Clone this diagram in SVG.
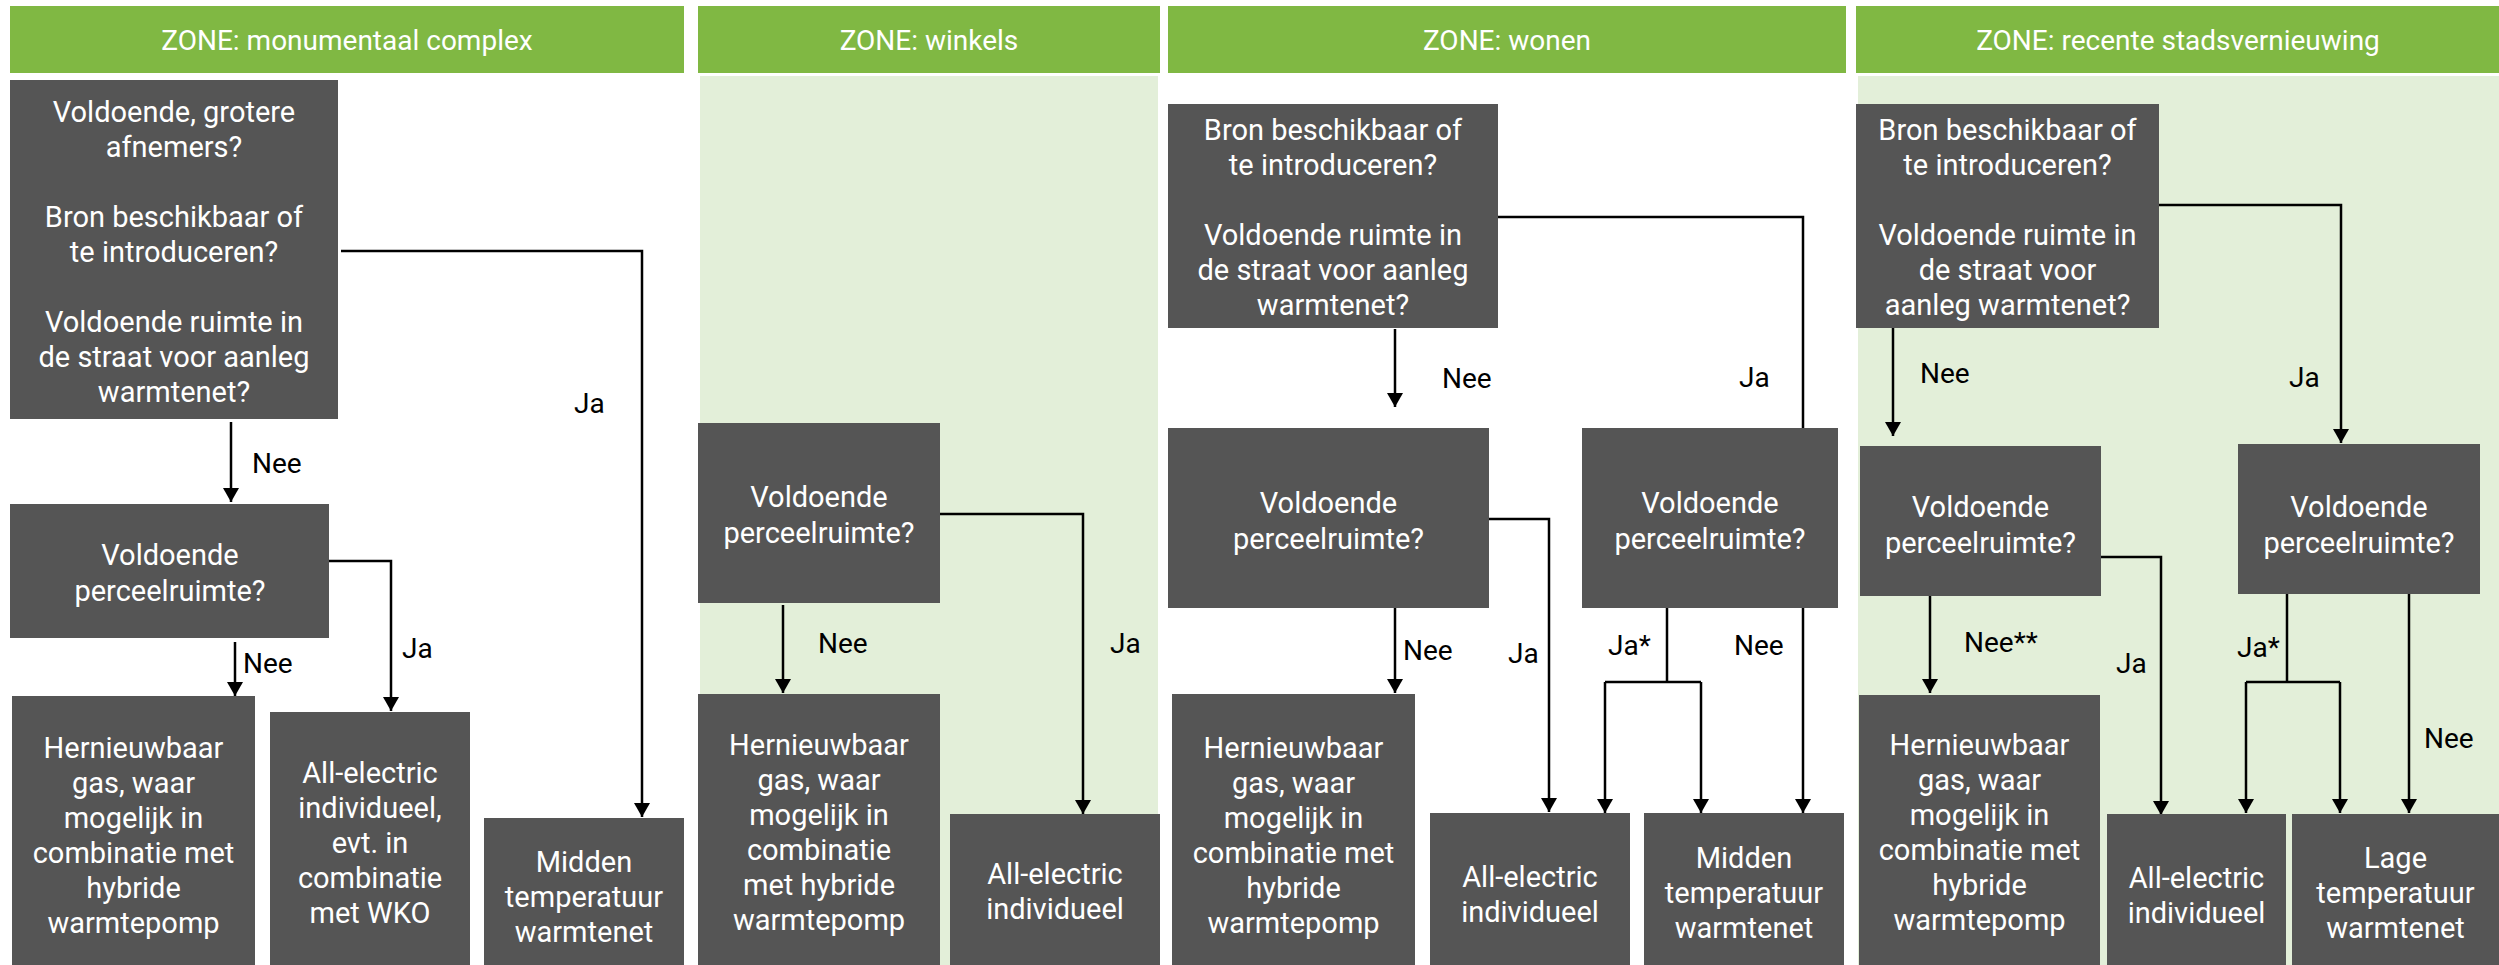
<svg xmlns="http://www.w3.org/2000/svg" width="2499" height="965" viewBox="0 0 2499 965">
<style>
.hdr{fill:#80B843}
.bg{fill:#E3EFD9}
.box{fill:#555555}
.t{font-family:Roboto,"Liberation Sans",sans-serif;font-size:29px;fill:#FFFFFF;text-anchor:middle}
.h{font-family:Roboto,"Liberation Sans",sans-serif;font-size:28px;fill:#FFFFFF;text-anchor:middle}
.lbl{font-family:Roboto,"Liberation Sans",sans-serif;font-size:28px;fill:#000000}
.c{fill:none;stroke:#000000;stroke-width:2.5}
</style>
<defs>
<marker id="arr" markerUnits="userSpaceOnUse" markerWidth="16" markerHeight="16" refX="14" refY="8" orient="auto">
<path d="M0,0 L14,8 L0,16 z" fill="#000000"/>
</marker>
</defs>
<rect width="2499" height="965" fill="#FFFFFF"/>
<g id="backgrounds">
<rect class="bg" x="700" y="76" width="458" height="889"/>
<rect class="bg" x="1858" y="76" width="641" height="889"/>
</g>
<g id="headers">
<rect class="hdr" x="10" y="6" width="674" height="67"/>
<text class="h" x="347" y="50">ZONE: monumentaal complex</text>
<rect class="hdr" x="698" y="6" width="462" height="67"/>
<text class="h" x="929" y="50">ZONE: winkels</text>
<rect class="hdr" x="1168" y="6" width="678" height="67"/>
<text class="h" x="1507" y="50">ZONE: wonen</text>
<rect class="hdr" x="1856" y="6" width="643" height="67"/>
<text class="h" x="2178" y="50">ZONE: recente stadsvernieuwing</text>
</g>
<g id="connectors">
<path class="c" d="M341,251 H642 V817" marker-end="url(#arr)"/>
<path class="c" d="M231,422 V502" marker-end="url(#arr)"/>
<path class="c" d="M329,561 H391 V711" marker-end="url(#arr)"/>
<path class="c" d="M235,642 V696" marker-end="url(#arr)"/>
<path class="c" d="M940,514 H1083 V814" marker-end="url(#arr)"/>
<path class="c" d="M783,605 V693" marker-end="url(#arr)"/>
<path class="c" d="M1498,217 H1803 V428"/>
<path class="c" d="M1395,329 V407" marker-end="url(#arr)"/>
<path class="c" d="M1489,519 H1549 V812" marker-end="url(#arr)"/>
<path class="c" d="M1395,608 V693" marker-end="url(#arr)"/>
<path class="c" d="M1667,608 V682 M1605,682 H1701"/>
<path class="c" d="M1605,682 V813" marker-end="url(#arr)"/>
<path class="c" d="M1701,682 V813" marker-end="url(#arr)"/>
<path class="c" d="M1803,608 V813" marker-end="url(#arr)"/>
<path class="c" d="M2159,205 H2341 V443" marker-end="url(#arr)"/>
<path class="c" d="M1893,328 V436" marker-end="url(#arr)"/>
<path class="c" d="M2101,557 H2161 V815" marker-end="url(#arr)"/>
<path class="c" d="M1930,596 V693" marker-end="url(#arr)"/>
<path class="c" d="M2287,594 V682 M2246,682 H2340"/>
<path class="c" d="M2246,682 V813" marker-end="url(#arr)"/>
<path class="c" d="M2340,682 V813" marker-end="url(#arr)"/>
<path class="c" d="M2409,594 V813" marker-end="url(#arr)"/>
</g>
<g id="labels">
<text class="lbl" x="574" y="413">Ja</text>
<text class="lbl" x="252" y="473">Nee</text>
<text class="lbl" x="243" y="673">Nee</text>
<text class="lbl" x="402" y="658">Ja</text>
<text class="lbl" x="818" y="653">Nee</text>
<text class="lbl" x="1110" y="653">Ja</text>
<text class="lbl" x="1442" y="388">Nee</text>
<text class="lbl" x="1739" y="387">Ja</text>
<text class="lbl" x="1403" y="660">Nee</text>
<text class="lbl" x="1508" y="663">Ja</text>
<text class="lbl" x="1608" y="655">Ja*</text>
<text class="lbl" x="1734" y="655">Nee</text>
<text class="lbl" x="1920" y="383">Nee</text>
<text class="lbl" x="2289" y="387">Ja</text>
<text class="lbl" x="1964" y="652">Nee**</text>
<text class="lbl" x="2116" y="673">Ja</text>
<text class="lbl" x="2237" y="657">Ja*</text>
<text class="lbl" x="2424" y="748">Nee</text>
</g>
<g id="A1">
<rect class="box" x="10" y="80" width="328" height="339"/>
<text class="t"><tspan x="174" y="122">Voldoende, grotere</tspan><tspan x="174" y="157">afnemers?</tspan><tspan x="174" y="227">Bron beschikbaar of</tspan><tspan x="174" y="262">te introduceren?</tspan><tspan x="174" y="332">Voldoende ruimte in</tspan><tspan x="174" y="367">de straat voor aanleg</tspan><tspan x="174" y="402">warmtenet?</tspan></text>
</g>
<g id="A2">
<rect class="box" x="10" y="504" width="319" height="134"/>
<text class="t"><tspan x="170" y="565">Voldoende</tspan><tspan x="170" y="601">perceelruimte?</tspan></text>
</g>
<g id="A3">
<rect class="box" x="12" y="696" width="243" height="269"/>
<text class="t"><tspan x="133.5" y="758">Hernieuwbaar</tspan><tspan x="133.5" y="793">gas, waar</tspan><tspan x="133.5" y="828">mogelijk in</tspan><tspan x="133.5" y="863">combinatie met</tspan><tspan x="133.5" y="898">hybride</tspan><tspan x="133.5" y="933">warmtepomp</tspan></text>
</g>
<g id="A4">
<rect class="box" x="270" y="712" width="200" height="253"/>
<text class="t"><tspan x="370" y="783">All-electric</tspan><tspan x="370" y="818">individueel,</tspan><tspan x="370" y="853">evt. in</tspan><tspan x="370" y="888">combinatie</tspan><tspan x="370" y="923">met WKO</tspan></text>
</g>
<g id="A5">
<rect class="box" x="484" y="818" width="200" height="147"/>
<text class="t"><tspan x="584" y="872">Midden</tspan><tspan x="584" y="907">temperatuur</tspan><tspan x="584" y="942">warmtenet</tspan></text>
</g>
<g id="B1">
<rect class="box" x="698" y="423" width="242" height="180"/>
<text class="t"><tspan x="819" y="507">Voldoende</tspan><tspan x="819" y="543">perceelruimte?</tspan></text>
</g>
<g id="B2">
<rect class="box" x="698" y="694" width="242" height="271"/>
<text class="t"><tspan x="819" y="755">Hernieuwbaar</tspan><tspan x="819" y="790">gas, waar</tspan><tspan x="819" y="825">mogelijk in</tspan><tspan x="819" y="860">combinatie</tspan><tspan x="819" y="895">met hybride</tspan><tspan x="819" y="930">warmtepomp</tspan></text>
</g>
<g id="B3">
<rect class="box" x="950" y="814" width="210" height="151"/>
<text class="t"><tspan x="1055" y="884">All-electric</tspan><tspan x="1055" y="919">individueel</tspan></text>
</g>
<g id="C1">
<rect class="box" x="1168" y="104" width="330" height="224"/>
<text class="t"><tspan x="1333" y="140">Bron beschikbaar of</tspan><tspan x="1333" y="175">te introduceren?</tspan><tspan x="1333" y="245">Voldoende ruimte in</tspan><tspan x="1333" y="280">de straat voor aanleg</tspan><tspan x="1333" y="315">warmtenet?</tspan></text>
</g>
<g id="C2">
<rect class="box" x="1168" y="428" width="321" height="180"/>
<text class="t"><tspan x="1328.5" y="513">Voldoende</tspan><tspan x="1328.5" y="549">perceelruimte?</tspan></text>
</g>
<g id="C3">
<rect class="box" x="1582" y="428" width="256" height="180"/>
<text class="t"><tspan x="1710" y="513">Voldoende</tspan><tspan x="1710" y="549">perceelruimte?</tspan></text>
</g>
<g id="C4">
<rect class="box" x="1172" y="694" width="243" height="271"/>
<text class="t"><tspan x="1293.5" y="758">Hernieuwbaar</tspan><tspan x="1293.5" y="793">gas, waar</tspan><tspan x="1293.5" y="828">mogelijk in</tspan><tspan x="1293.5" y="863">combinatie met</tspan><tspan x="1293.5" y="898">hybride</tspan><tspan x="1293.5" y="933">warmtepomp</tspan></text>
</g>
<g id="C5">
<rect class="box" x="1430" y="813" width="200" height="152"/>
<text class="t"><tspan x="1530" y="887">All-electric</tspan><tspan x="1530" y="922">individueel</tspan></text>
</g>
<g id="C6">
<rect class="box" x="1644" y="813" width="200" height="152"/>
<text class="t"><tspan x="1744" y="868">Midden</tspan><tspan x="1744" y="903">temperatuur</tspan><tspan x="1744" y="938">warmtenet</tspan></text>
</g>
<g id="D1">
<rect class="box" x="1856" y="104" width="303" height="224"/>
<text class="t"><tspan x="2007.5" y="140">Bron beschikbaar of</tspan><tspan x="2007.5" y="175">te introduceren?</tspan><tspan x="2007.5" y="245">Voldoende ruimte in</tspan><tspan x="2007.5" y="280">de straat voor</tspan><tspan x="2007.5" y="315">aanleg warmtenet?</tspan></text>
</g>
<g id="D2">
<rect class="box" x="1860" y="446" width="241" height="150"/>
<text class="t"><tspan x="1980.5" y="517">Voldoende</tspan><tspan x="1980.5" y="553">perceelruimte?</tspan></text>
</g>
<g id="D3">
<rect class="box" x="2238" y="444" width="242" height="150"/>
<text class="t"><tspan x="2359" y="517">Voldoende</tspan><tspan x="2359" y="553">perceelruimte?</tspan></text>
</g>
<g id="D4">
<rect class="box" x="1859" y="695" width="241" height="270"/>
<text class="t"><tspan x="1979.5" y="755">Hernieuwbaar</tspan><tspan x="1979.5" y="790">gas, waar</tspan><tspan x="1979.5" y="825">mogelijk in</tspan><tspan x="1979.5" y="860">combinatie met</tspan><tspan x="1979.5" y="895">hybride</tspan><tspan x="1979.5" y="930">warmtepomp</tspan></text>
</g>
<g id="D5">
<rect class="box" x="2107" y="814" width="179" height="151"/>
<text class="t"><tspan x="2196.5" y="888">All-electric</tspan><tspan x="2196.5" y="923">individueel</tspan></text>
</g>
<g id="D6">
<rect class="box" x="2292" y="814" width="207" height="151"/>
<text class="t"><tspan x="2395.5" y="868">Lage</tspan><tspan x="2395.5" y="903">temperatuur</tspan><tspan x="2395.5" y="938">warmtenet</tspan></text>
</g>
</svg>
